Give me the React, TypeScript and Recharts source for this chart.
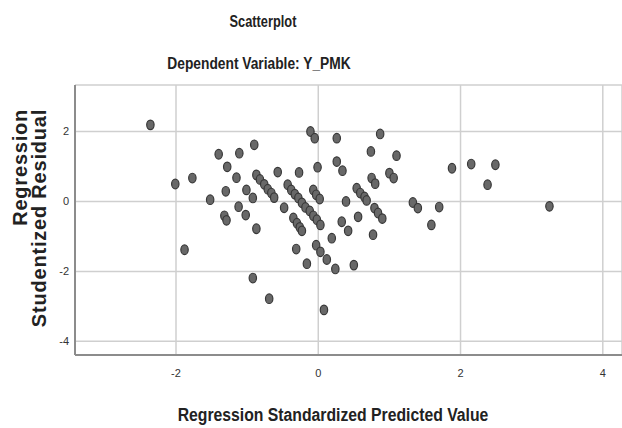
import React from "react";
import { ScatterChart, Scatter, XAxis, YAxis, CartesianGrid } from "recharts";

// Regression standardized predicted value (x) and studentized residual (y)
const predicted = [
  -2.36, -0.9, -1.4, -1.11, -1.28, -1.77, -2.01, -1.15, -1.3, -1.01,
  -1.52, -1.12, -1.02, -1.32, -1.29, -0.92, -0.87, -1.88, -0.92, -0.69,
  -0.87, -0.82, -0.76, -0.71, -0.66, -0.62,
  -0.43, -0.38, -0.33, -0.28, -0.23, -0.18, -0.12, -0.07, -0.02, 0.03,
  -0.35, -0.3, -0.26, -0.23,
  -0.07, -0.03, 0.02,
  -0.01, -0.27, -0.57, -0.48,
  -0.11, -0.05, 0.26, 0.87, 0.74, 1.1, 0.26, 0.34, 0.75, 0.8, 1.0, 1.06,
  0.54, 0.59, 0.65, 0.68,
  0.39,
  1.33, 1.4, 1.7, 0.79, 0.84, 0.9, 0.56, 0.33, 0.42,
  0.19, 0.77, 1.59, -0.31, -0.03, 0.03, 0.12, -0.16, 0.24, 0.5, 0.08,
  1.88, 2.15, 2.49, 2.38, 3.25,
];

const residual = [
  2.19, 1.62, 1.35, 1.38, 0.99, 0.67, 0.5, 0.68, 0.29, 0.33,
  0.05, -0.15, -0.39, -0.41, -0.54, 0.1, -0.78, -1.38, -2.19, -2.78,
  0.76, 0.63, 0.49, 0.35, 0.24, 0.11,
  0.48, 0.33, 0.21, 0.1, -0.04, -0.17, -0.27, -0.41, -0.52, -0.67,
  -0.47, -0.62, -0.74, -0.84,
  0.33, 0.19, 0.07,
  0.98, 0.83, 0.84, -0.18,
  2.0, 1.81, 1.81, 1.93, 1.43, 1.31, 1.14, 0.88, 0.67, 0.51, 0.81, 0.67,
  0.38, 0.24, 0.13, 0.03,
  0.0,
  -0.03, -0.19, -0.16, -0.19, -0.33, -0.49, -0.44, -0.58, -0.84,
  -1.05, -0.95, -0.67, -1.36, -1.25, -1.44, -1.66, -1.78, -1.93, -1.82, -3.1,
  0.95, 1.07, 1.05, 0.48, -0.14,
];

const xTicks = [-2, 0, 2, 4];
const yTicks = [-4, -2, 0, 2];

const points = predicted.map((x, i) => ({ x, y: residual[i] }));

const Dot = (p: any) => (
  <ellipse cx={p.cx} cy={p.cy} rx={3.7} ry={4.8} fill="#686868" stroke="#383838" strokeWidth={1.2} />
);

const sans = "'Liberation Sans', Arial, sans-serif";

// no narrow font installed, so squeeze the bold sans horizontally
const title = (scale: number, size: number): React.CSSProperties => ({
  position: "absolute",
  whiteSpace: "nowrap",
  fontFamily: sans,
  fontWeight: "bold",
  fontSize: size,
  color: "#222",
  transform: `translateX(-50%) scaleX(${scale})`,
});

export default function App() {
  return (
    <div style={{ position: "absolute", left: 0, top: 0, width: 622, height: 428, background: "#fff" }}>
      <div style={{ ...title(0.8, 16), left: 263, top: 13 }}>Scatterplot</div>
      <div style={{ ...title(0.86, 16), left: 259, top: 55 }}>Dependent Variable: Y_PMK</div>
      <div style={{ ...title(0.9, 17.5), left: 333, top: 405 }}>Regression Standardized Predicted Value</div>
      <div style={{ position: "absolute", left: 30, top: 218, width: 0, height: 0 }}>
        <div style={{ position: "absolute", transform: "translate(-50%, -50%) rotate(-90deg)", whiteSpace: "nowrap", textAlign: "right", fontFamily: sans, fontWeight: "bold", fontSize: 20, letterSpacing: 0.8, lineHeight: "19px", color: "#222" }}>
          Regression<br />Studentized Residual
        </div>
      </div>
      <ScatterChart width={622} height={428} margin={{ top: 85, right: 0, bottom: 0, left: 0 }}>
        <CartesianGrid stroke="#cfcfcf" strokeWidth={1.5} />
        <XAxis
          type="number"
          dataKey="x"
          domain={[-3.42, 4.27]}
          ticks={xTicks}
          allowDataOverflow
          height={73}
          axisLine={{ stroke: "#8c8c8c", strokeWidth: 2 }}
          tickLine={false}
          tickMargin={8}
          tick={{ fontSize: 11, fill: "#333", fontFamily: sans }}
        />
        <YAxis
          type="number"
          dataKey="y"
          domain={[-4.39, 3.33]}
          ticks={yTicks}
          allowDataOverflow
          width={75}
          axisLine={{ stroke: "#8c8c8c", strokeWidth: 2 }}
          tickLine={false}
          tickMargin={0}
          tick={{ fontSize: 11, fill: "#333", fontFamily: sans }}
        />
        <Scatter data={points} shape={Dot} isAnimationActive={false} />
      </ScatterChart>
    </div>
  );
}
